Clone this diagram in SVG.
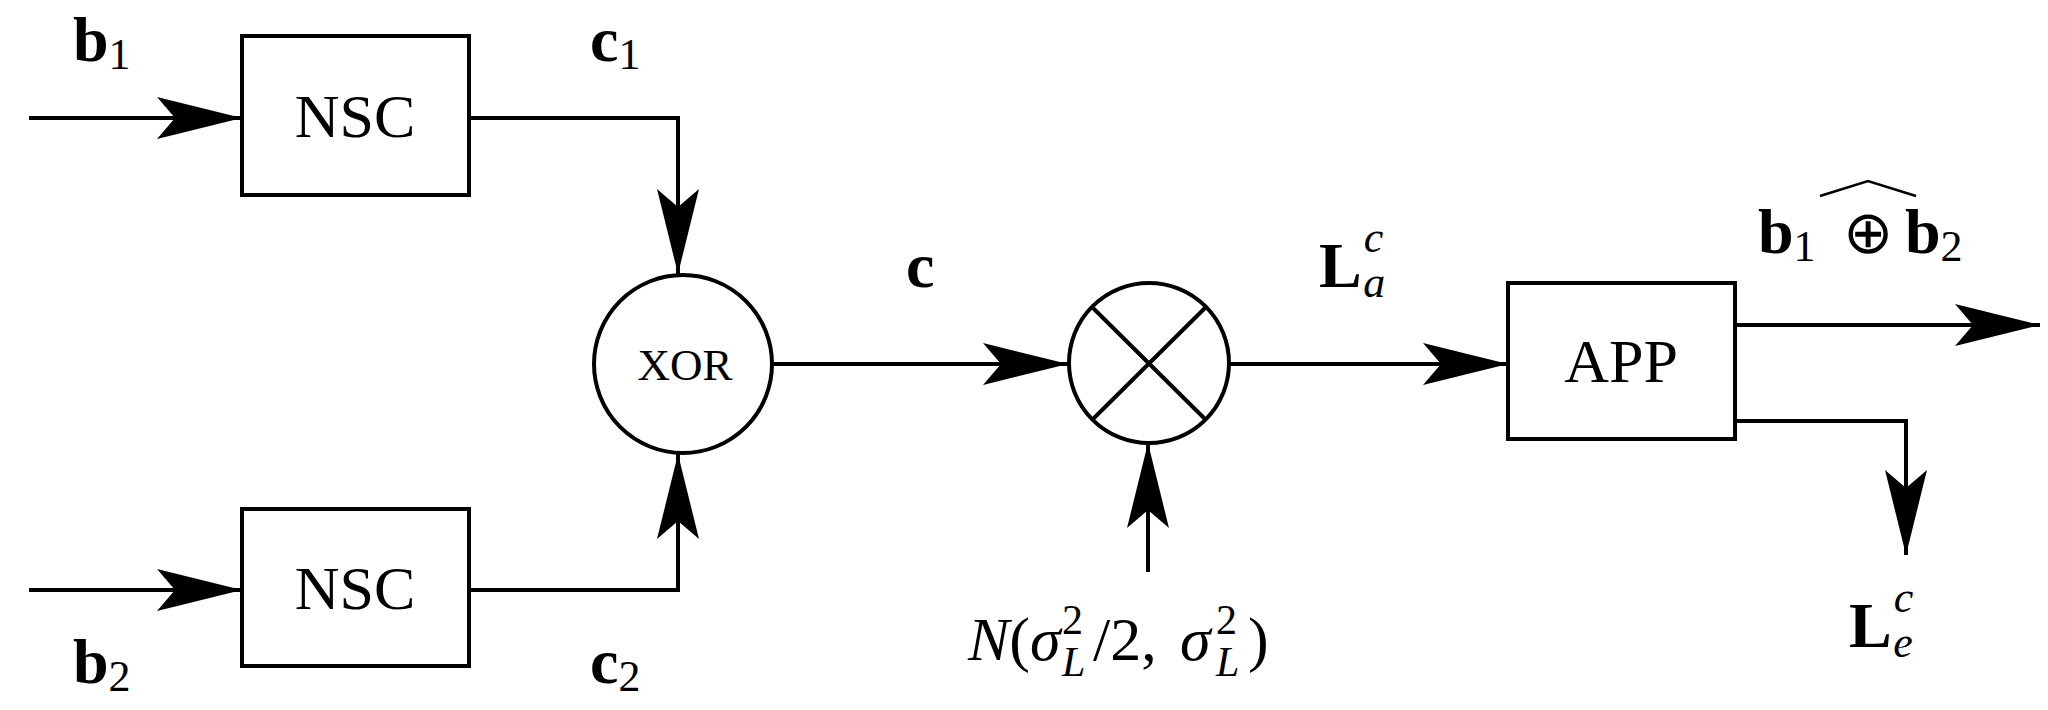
<svg xmlns="http://www.w3.org/2000/svg" width="2048" height="710" viewBox="0 0 2048 710">
<style>
.s{fill:none;stroke:#000;stroke-width:4}
text{font-family:"Liberation Serif","Times New Roman",Times,serif;fill:#000}
.lb{font-size:62px}
.m{font-size:64px;font-weight:bold}
.sub{font-size:44px;font-weight:normal}
.it{font-style:italic}
</style>
<defs>
<marker id="ah" markerUnits="userSpaceOnUse" markerWidth="90" markerHeight="50" refX="85" refY="21" orient="auto">
<path d="M0,0 L85,21 L0,42 L18,21 Z" fill="#000"/>
</marker>
</defs>
<rect width="2048" height="710" fill="#fff"/>
<g id="connectors" class="s">
<path d="M29,118 H242" marker-end="url(#ah)"/>
<path d="M29,590 H242" marker-end="url(#ah)"/>
<path d="M469,118 H678 V274" marker-end="url(#ah)"/>
<path d="M469,590 H678 V454" marker-end="url(#ah)"/>
<path d="M772,364 H1068" marker-end="url(#ah)"/>
<path d="M1148,572 V443" marker-end="url(#ah)"/>
<path d="M1229,364 H1508" marker-end="url(#ah)"/>
<path d="M1735,325 H2040" marker-end="url(#ah)"/>
<path d="M1735,421 H1906 V555" marker-end="url(#ah)"/>
</g>
<g id="nsc1"><rect class="s" x="242" y="36" width="227" height="159"/><text class="lb" x="355" y="137" text-anchor="middle">NSC</text></g>
<g id="nsc2"><rect class="s" x="242" y="509" width="227" height="157"/><text class="lb" x="355" y="609" text-anchor="middle">NSC</text></g>
<g id="xor"><circle class="s" cx="683" cy="364" r="89"/><text x="685" y="380" font-size="45" text-anchor="middle">XOR</text></g>
<g id="mixer"><circle class="s" cx="1149" cy="363" r="80"/><path class="s" d="M1093,308 L1205,419 M1205,308 L1093,419"/></g>
<g id="app"><rect class="s" x="1508" y="283" width="227" height="156"/><text class="lb" x="1621" y="382" text-anchor="middle">APP</text></g>
<g id="labels">
<text class="m" x="73" y="61">b<tspan class="sub" dy="8">1</tspan></text>
<text class="m" x="73" y="683">b<tspan class="sub" dy="8">2</tspan></text>
<text class="m" x="590" y="61">c<tspan class="sub" dy="8">1</tspan></text>
<text class="m" x="590" y="683">c<tspan class="sub" dy="8">2</tspan></text>
<text class="m" x="906" y="287">c</text>
<text class="m" x="1319" y="287">L<tspan class="sub it" dx="2" dy="-35">c</tspan><tspan class="sub it" dx="-20" dy="45">a</tspan></text>
<text class="m" x="1849" y="647">L<tspan class="sub it" dx="2" dy="-35">c</tspan><tspan class="sub it" dx="-20" dy="45">e</tspan></text>
<text class="m" x="1758" y="253">b<tspan class="sub" dy="8">1</tspan></text>
<text x="1868" y="253" font-size="60" text-anchor="middle">⊕</text>
<text class="m" x="1905" y="253">b<tspan class="sub" dy="8">2</tspan></text>
<path d="M1820,196 L1868,181 L1916,196" fill="none" stroke="#000" stroke-width="2.5"/>
<g font-size="62">
<text x="968" y="660"><tspan class="it">N</tspan>(<tspan class="it">σ</tspan></text>
<text x="1062" y="634" font-size="42">2</text>
<text x="1062" y="676" font-size="42" class="it">L</text>
<text x="1093" y="660">/2,</text>
<text x="1180" y="660" class="it">σ</text>
<text x="1216" y="634" font-size="42">2</text>
<text x="1216" y="676" font-size="42" class="it">L</text>
<text x="1248" y="660">)</text>
</g>
</g>
</svg>
